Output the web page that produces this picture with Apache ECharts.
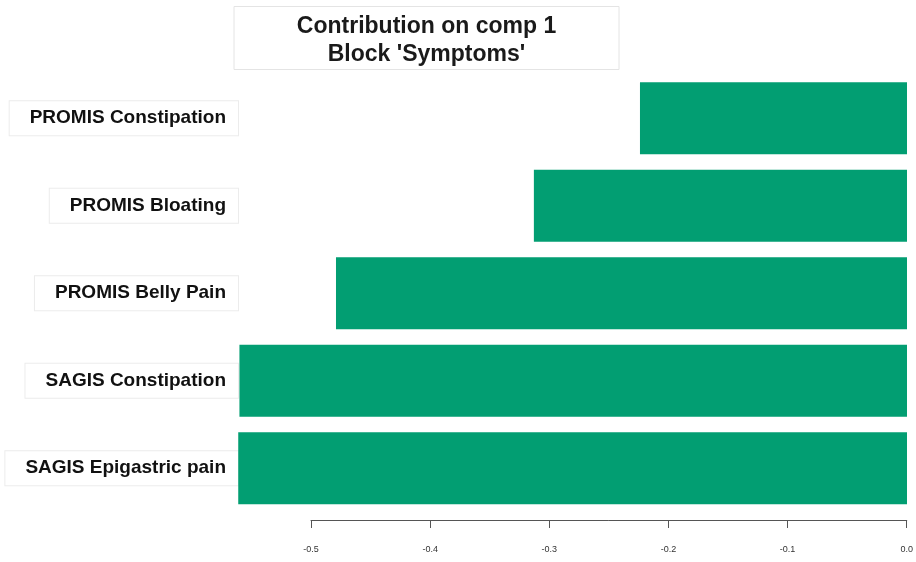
<!DOCTYPE html>
<html>
<head>
<meta charset="utf-8">
<script src="https://cdn.jsdelivr.net/npm/echarts@6/dist/echarts.min.js"></script>
<style>
    html, body {margin: 0; padding: 0; background: #fff;}
    #main {width: 916px; height: 562px;}
</style>
</head>
<body>
<div id="main"></div>
<script>
// bottom to top, as the category axis counts them
var categories = ['SAGIS Epigastric pain', 'SAGIS Constipation', 'PROMIS Belly Pain', 'PROMIS Bloating', 'PROMIS Constipation'];
var contributions = [-0.561, -0.560, -0.479, -0.313, -0.224];
var tickValues = [-0.5, -0.4, -0.3, -0.2, -0.1, 0.0];

var chart = echarts.init(document.getElementById('main'));
chart.setOption({
    animation: false,
    title: {
        text: "Contribution on comp 1\nBlock 'Symptoms'",
        left: 363.5,
        top: 6,
        textAlign: 'center',
        padding: [7, 63, 1, 63],
        borderColor: '#e4e4e4',
        borderWidth: 1,
        textStyle: {
            fontFamily: 'Liberation Sans, Arial',
            fontSize: 23,
            fontWeight: 'bold',
            color: '#1a1a1a',
            lineHeight: 28
        }
    },
    grid: [
        {left: 238, right: 9, top: 74.5, bottom: 50},
        // R style axis, drawn only over the tick range
        {left: 311, right: 9, top: 519, height: 1}
    ],
    xAxis: [
        {
            type: 'value', gridIndex: 0, min: -0.5612, max: 0,
            show: false
        },
        {
            type: 'value', gridIndex: 1, min: -0.5, max: 0, interval: 0.1,
            position: 'bottom',
            axisLine: {show: true, onZero: false, lineStyle: {color: '#555', width: 1}},
            axisTick: {show: true, length: 8, lineStyle: {color: '#555'},
                customValues: tickValues},
            axisLabel: {
                fontFamily: 'Liberation Sans, Arial', fontSize: 9, color: '#333', margin: 25,
                customValues: tickValues,
                formatter: function (v) { return v.toFixed(1); }
            },
            splitLine: {show: false}
        }
    ],
    yAxis: [
        {
            type: 'category', gridIndex: 0, data: categories,
            axisLine: {show: false},
            axisTick: {show: false},
            axisLabel: {
                margin: 0,
                fontFamily: 'Liberation Sans, Arial',
                fontSize: 19,
                fontWeight: 'bold',
                color: '#111',
                backgroundColor: '#fff',
                borderColor: '#ececec',
                borderWidth: 1,
                padding: [9, 12, 6, 20]
            }
        },
        {type: 'value', gridIndex: 1, show: false}
    ],
    series: [{
        type: 'bar',
        xAxisIndex: 0,
        yAxisIndex: 0,
        data: contributions,
        barCategoryGap: '17.5%',
        itemStyle: {color: '#029e72'}
    }]
});
</script>
</body>
</html>
